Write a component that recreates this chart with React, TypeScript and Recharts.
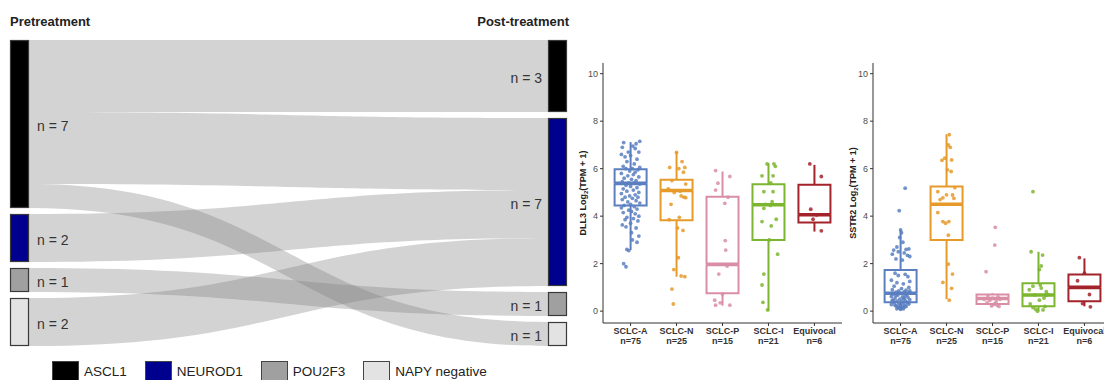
import React from 'react'
import { Sankey, ComposedChart, Bar, Scatter, XAxis, YAxis } from 'recharts'

// ---- Sankey: subtype switch pre vs post treatment ----
const subtypes = ['ASCL1', 'NEUROD1', 'POU2F3', 'NAPY negative']
const subtypeFill = ['#000000', '#00008f', '#a0a0a0', '#e3e3e3']

const sankeyNodes = [...subtypes, ...subtypes].map((name) => ({ name }))
const sankeyLinks = [
  { source: 0, target: 4, value: 3 },
  { source: 0, target: 5, value: 3 },
  { source: 0, target: 7, value: 1 },
  { source: 1, target: 5, value: 2 },
  { source: 2, target: 6, value: 1 },
  { source: 3, target: 5, value: 2 },
]

// ---- Box plots ----
const groups = ['SCLC-A', 'SCLC-N', 'SCLC-P', 'SCLC-I', 'Equivocal']
const groupN = [75, 25, 15, 21, 6]
const groupColors = ['#5b7fc1', '#e59a2a', '#d98ea6', '#7cb52f', '#a3232b']

// [lower whisker, Q1, median, Q3, upper whisker]
const dll3Stats = [
  [2.57, 4.45, 5.38, 5.98, 7.12],
  [1.45, 3.83, 5.08, 5.53, 6.7],
  [0.23, 0.75, 1.97, 4.82, 5.88],
  [0.0, 3.0, 4.48, 5.34, 6.23],
  [3.35, 3.73, 4.06, 5.32, 6.16],
]
const sstr2Stats = [
  [0.1, 0.37, 0.75, 1.73, 3.42],
  [0.5, 3.0, 4.5, 5.25, 7.45],
  [0.2, 0.3, 0.53, 0.7, 0.75],
  [0.0, 0.21, 0.68, 1.17, 2.5],
  [0.2, 0.42, 1.0, 1.54, 2.22],
]

// jittered samples: [x offset, value]
const dll3Points = [
  [[-0.15, 7.1], [0.12, 7.05], [0.2, 7.15], [0.05, 6.95], [-0.18, 6.9], [0.1, 6.85], [-0.05, 6.7], [0.18, 6.7], [-0.2, 6.6], [0.0, 6.55], [-0.12, 6.5], [0.14, 6.4], [-0.08, 6.3], [0.08, 6.2], [-0.16, 6.1], [0.2, 6.05], [0.04, 6.0], [-0.1, 6.0], [0.16, 5.95], [-0.02, 5.9], [0.1, 5.85], [-0.2, 5.8], [0.06, 5.75], [-0.06, 5.7], [0.18, 5.65], [-0.14, 5.6], [0.02, 5.55], [0.12, 5.5], [-0.18, 5.45], [0.08, 5.4], [-0.04, 5.4], [0.2, 5.35], [-0.1, 5.3], [0.0, 5.25], [0.14, 5.2], [-0.16, 5.15], [0.06, 5.1], [-0.08, 5.05], [0.18, 5.0], [-0.2, 4.95], [0.1, 4.9], [-0.02, 4.85], [0.16, 4.8], [-0.12, 4.8], [0.04, 4.75], [-0.18, 4.7], [0.12, 4.65], [-0.06, 4.6], [0.2, 4.55], [0.0, 4.5], [-0.14, 4.45], [0.08, 4.4], [-0.2, 4.35], [0.14, 4.3], [-0.04, 4.25], [0.02, 4.2], [-0.16, 4.15], [0.1, 4.1], [0.18, 4.0], [-0.08, 3.95], [0.06, 3.9], [-0.12, 3.85], [0.16, 3.8], [0.0, 3.7], [-0.18, 3.63], [-0.1, 3.55], [0.12, 3.5], [0.02, 3.3], [0.18, 3.16], [0.04, 3.0], [0.14, 2.9], [-0.08, 2.6], [-0.04, 2.55], [-0.15, 2.0], [-0.1, 1.87]],
  [[0.0, 6.68], [0.12, 6.3], [-0.15, 6.05], [0.18, 6.05], [0.05, 6.0], [0.15, 5.85], [-0.1, 5.5], [0.2, 5.35], [-0.18, 5.15], [0.08, 5.05], [-0.05, 5.0], [0.1, 4.85], [0.16, 4.8], [0.2, 4.78], [-0.12, 4.5], [0.06, 3.95], [-0.16, 3.85], [0.02, 3.5], [0.14, 3.4], [0.04, 2.25], [-0.06, 1.75], [0.1, 1.48], [0.18, 1.45], [-0.1, 0.93], [-0.07, 0.3]],
  [[-0.15, 5.92], [0.16, 5.67], [-0.1, 5.39], [-0.15, 5.1], [0.05, 4.54], [0.06, 2.97], [0.07, 2.57], [-0.08, 1.56], [0.0, 0.72], [-0.17, 0.46], [-0.15, 0.25], [0.16, 0.25], [0.1, 1.9], [-0.05, 0.35], [0.12, 4.8]],
  [[-0.03, 6.2], [0.12, 6.2], [-0.14, 5.7], [0.1, 5.7], [-0.1, 5.03], [0.1, 5.03], [0.08, 4.61], [-0.1, 4.33], [-0.14, 3.77], [0.17, 3.87], [0.06, 3.59], [0.2, 2.4], [-0.1, 1.56], [-0.14, 1.1], [-0.12, 0.37], [0.04, 4.45], [-0.06, 4.5], [0.02, 3.0], [0.15, 6.1], [-0.02, 0.05], [0.05, 5.4]],
  [[-0.1, 6.2], [0.15, 5.67], [-0.08, 4.29], [-0.03, 3.87], [0.15, 3.38], [0.05, 4.05]],
]
const sstr2Points = [
  [[0.1, 5.18], [-0.03, 4.23], [0.0, 3.42], [0.02, 3.3], [-0.02, 3.1], [0.05, 2.9], [-0.08, 2.7], [0.12, 2.6], [0.18, 2.62], [-0.15, 2.57], [-0.05, 2.5], [0.08, 2.45], [-0.18, 2.4], [0.15, 2.35], [-0.1, 2.2], [0.04, 2.15], [0.2, 2.3], [-0.12, 1.6], [0.1, 1.55], [-0.05, 1.5], [0.16, 1.45], [-0.2, 1.3], [0.2, 1.25], [-0.08, 1.2], [0.06, 1.15], [-0.14, 1.05], [0.18, 1.0], [0.02, 0.95], [-0.18, 0.9], [0.12, 0.88], [-0.04, 0.85], [0.08, 0.82], [-0.1, 0.8], [0.2, 0.78], [0.0, 0.75], [-0.16, 0.72], [0.14, 0.7], [-0.06, 0.68], [0.1, 0.65], [-0.2, 0.62], [0.04, 0.6], [0.16, 0.58], [-0.12, 0.55], [0.06, 0.52], [-0.02, 0.5], [0.2, 0.48], [-0.18, 0.46], [0.1, 0.44], [-0.08, 0.42], [0.02, 0.4], [0.14, 0.38], [-0.14, 0.36], [0.06, 0.34], [-0.04, 0.32], [0.18, 0.3], [-0.2, 0.28], [0.0, 0.26], [0.1, 0.24], [-0.1, 0.22], [0.04, 0.2], [-0.06, 0.18], [0.08, 0.16], [-0.02, 0.14], [0.02, 0.12], [-0.08, 0.1], [0.06, 0.1], [0.0, 0.08], [-0.04, 0.15], [0.12, 0.2], [-0.12, 0.25], [0.16, 0.35], [-0.16, 0.45], [0.08, 0.55], [-0.1, 0.65], [0.2, 0.85]],
  [[0.06, 7.43], [0.04, 7.0], [-0.04, 6.44], [0.11, 6.37], [0.1, 5.88], [-0.19, 5.03], [-0.08, 4.77], [0.0, 4.9], [0.13, 4.89], [-0.19, 4.15], [-0.08, 3.77], [0.05, 3.77], [0.04, 3.2], [0.04, 1.98], [0.13, 1.56], [-0.08, 1.21], [0.11, 0.96], [0.06, 0.46], [0.08, 6.9], [-0.1, 6.35], [-0.14, 4.7], [0.16, 4.75], [-0.02, 3.7], [0.18, 5.2], [0.02, 5.95]],
  [[0.06, 3.53], [0.05, 2.78], [-0.14, 1.66], [-0.1, 0.65], [0.12, 0.6], [0.0, 0.55], [-0.18, 0.5], [0.16, 0.5], [-0.06, 0.45], [0.08, 0.4], [-0.12, 0.35], [0.04, 0.3], [0.1, 0.25], [-0.02, 0.22], [0.14, 0.2]],
  [[-0.12, 5.03], [-0.16, 2.5], [0.09, 2.36], [0.06, 1.9], [0.02, 1.75], [-0.12, 1.05], [0.06, 0.97], [0.17, 0.82], [-0.08, 0.68], [0.16, 0.66], [0.02, 0.46], [-0.12, 0.15], [-0.06, 0.08], [0.1, 0.05], [0.2, 0.7], [-0.18, 0.3], [0.14, 0.2], [-0.02, 0.0], [0.04, 1.1], [-0.2, 0.9], [0.12, 0.55]],
  [[-0.11, 2.25], [-0.15, 1.28], [0.11, 0.7], [-0.04, 0.32], [0.13, 0.18], [0.0, 1.6]],
]

const yTicks = [0, 2, 4, 6, 8, 10]
const xTicks = [1, 2, 3, 4, 5]

const FONT = "'Liberation Sans', Arial, sans-serif"

function SankeyNode(props: any) {
  const { x, y, width, height, index, payload } = props
  const left = payload.depth === 0
  return (
    <g>
      <rect
        x={x + 0.5}
        y={y + 0.5}
        width={width - 1}
        height={height - 1}
        fill={subtypeFill[index % 4]}
        stroke="#3a3a3a"
        strokeWidth={1.2}
      />
      <text
        x={left ? x + width + 8 : x - 6}
        y={y + height / 2 + 2}
        textAnchor={left ? 'start' : 'end'}
        dominantBaseline="central"
        fontSize={14}
        fill="#333"
        fontFamily={FONT}
      >
        n = {payload.value}
      </text>
    </g>
  )
}

function SankeyLink(props: any) {
  const { sourceX, targetX, sourceY, targetY, sourceControlX, targetControlX, linkWidth } = props
  const h = linkWidth / 2
  const d =
    `M${sourceX},${sourceY - h} C${sourceControlX},${sourceY - h} ${targetControlX},${targetY - h} ${targetX},${targetY - h} ` +
    `L${targetX},${targetY + h} C${targetControlX},${targetY + h} ${sourceControlX},${sourceY + h} ${sourceX},${sourceY + h} Z`
  return <path d={d} fill="#7f7f7f" fillOpacity={0.34} stroke="none" />
}

const EmptyShape = () => <g />

function WhiskerShape(props: any) {
  const { x, y, width, height, index } = props
  const cx = x + width / 2
  return <line x1={cx} x2={cx} y1={y} y2={y + height} stroke={groupColors[index]} strokeWidth={2} />
}

function LowerBox(props: any) {
  const { x, y, width, height, index } = props
  return (
    <path
      d={`M${x},${y} L${x},${y + height} L${x + width},${y + height} L${x + width},${y}`}
      fill="none"
      stroke={groupColors[index]}
      strokeWidth={2}
    />
  )
}

function UpperBox(props: any) {
  const { x, y, width, height, index } = props
  const c = groupColors[index]
  return (
    <g>
      <path d={`M${x},${y + height} L${x},${y} L${x + width},${y} L${x + width},${y + height}`} fill="none" stroke={c} strokeWidth={2} />
      <line x1={x} x2={x + width} y1={y + height} y2={y + height} stroke={c} strokeWidth={3.6} />
    </g>
  )
}

function GroupTick({ x, y, payload }: any) {
  const g = Math.round(payload.value) - 1
  return (
    <text x={x} y={y} textAnchor="middle" fontSize={9} fontWeight="bold" fill="#333" fontFamily={FONT}>
      <tspan x={x} dy={6}>{groups[g]}</tspan>
      <tspan x={x} dy={10}>n={groupN[g]}</tspan>
    </text>
  )
}

function AxisTitle({ viewBox, gene }: any) {
  const cx = viewBox.x + viewBox.width - 20
  const cy = viewBox.y + viewBox.height / 2
  return (
    <text
      x={cx}
      y={cy}
      transform={`rotate(-90 ${cx} ${cy})`}
      textAnchor="middle"
      dominantBaseline="central"
      fontSize={9}
      fontWeight="bold"
      fill="#222"
      fontFamily={FONT}
    >
      {gene} Log<tspan fontSize={6} dy={2.5}>2</tspan>
      <tspan dy={-2.5}>(TPM + 1)</tspan>
    </text>
  )
}

function BoxPanel({ gene, stats, points, left }: any) {
  const rows = stats.map((s: number[], i: number) => ({
    x: i + 1,
    base: s[0],
    lw: s[1] - s[0],
    bl: s[2] - s[1],
    bu: s[3] - s[2],
    uw: s[4] - s[3],
  }))
  return (
    <div style={{ position: 'absolute', left, top: 0 }}>
      <ComposedChart width={290} height={360} data={rows} margin={{ top: 63, right: 8, bottom: 7, left: 0 }}>
        <XAxis
          type="number"
          dataKey="x"
          domain={[0.4, 5.6]}
          ticks={xTicks}
          allowDataOverflow
          interval={0}
          height={30}
          tick={<GroupTick />}
          tickSize={3}
          tickLine={{ stroke: '#333' }}
          axisLine={{ stroke: '#333' }}
        />
        {/* separate hidden axis for the boxes so jittered points don't shrink the bar band */}
        <XAxis xAxisId="box" type="number" dataKey="x" domain={[0.4, 5.6]} ticks={xTicks} allowDataOverflow hide />
        <YAxis
          type="number"
          domain={[-0.5, 10.45]}
          ticks={yTicks}
          allowDataOverflow
          width={43}
          tickSize={3}
          tickMargin={2}
          tick={{ fontSize: 9, fill: '#4d4d4d', fontFamily: FONT }}
          tickLine={{ stroke: '#333' }}
          axisLine={{ stroke: '#333' }}
          label={<AxisTitle gene={gene} />}
        />
        <Bar xAxisId="box" dataKey="base" stackId="b" barSize={32} shape={EmptyShape} isAnimationActive={false} />
        <Bar xAxisId="box" dataKey="lw" stackId="b" barSize={32} shape={WhiskerShape} isAnimationActive={false} />
        <Bar xAxisId="box" dataKey="bl" stackId="b" barSize={32} shape={LowerBox} isAnimationActive={false} />
        <Bar xAxisId="box" dataKey="bu" stackId="b" barSize={32} shape={UpperBox} isAnimationActive={false} />
        <Bar xAxisId="box" dataKey="uw" stackId="b" barSize={32} shape={WhiskerShape} isAnimationActive={false} />
        {points.map((pts: number[][], g: number) => (
          <Scatter
            key={g}
            data={pts.map(([dx, v]) => ({ x: g + 1 + dx, y: v }))}
            dataKey="y"
            isAnimationActive={false}
            shape={(p: any) => <circle cx={p.cx} cy={p.cy} r={1.9} fill={groupColors[g]} fillOpacity={0.85} />}
          />
        ))}
      </ComposedChart>
    </div>
  )
}

export default function App() {
  return (
    <div
      style={{
        position: 'absolute',
        left: 0,
        top: 0,
        width: 1104,
        height: 380,
        overflow: 'hidden',
        background: '#fff',
        fontFamily: FONT,
      }}
    >
      <div style={{ position: 'absolute', left: 10, top: 14, fontSize: 13, fontWeight: 'bold', color: '#222', lineHeight: '16px' }}>
        Pretreatment
      </div>
      <div style={{ position: 'absolute', right: 1104 - 569, top: 14, fontSize: 13, fontWeight: 'bold', color: '#222', lineHeight: '16px' }}>
        Post-treatment
      </div>
      <div style={{ position: 'absolute', left: 0, top: 0 }}>
        <Sankey
          width={580}
          height={350}
          data={{ nodes: sankeyNodes, links: sankeyLinks }}
          nodeWidth={19}
          nodePadding={6}
          iterations={0}
          sort={false}
          margin={{ top: 40, left: 10, right: 13, bottom: 4 }}
          node={(p: any) => <SankeyNode {...p} />}
          link={(p: any) => <SankeyLink {...p} />}
        />
      </div>
      <div style={{ position: 'absolute', left: 52, top: 361, display: 'flex', alignItems: 'center' }}>
        {subtypes.map((name, i) => (
          <div key={name} style={{ display: 'flex', alignItems: 'center', marginRight: 18 }}>
            <div style={{ width: 25, height: 18, background: subtypeFill[i], border: '1px solid #444' }} />
            <span style={{ marginLeft: 5, fontSize: 13.5, color: '#222' }}>{name}</span>
          </div>
        ))}
      </div>
      <BoxPanel gene="DLL3" stats={dll3Stats} points={dll3Points} left={560} />
      <BoxPanel gene="SSTR2" stats={sstr2Stats} points={sstr2Points} left={830} />
    </div>
  )
}
